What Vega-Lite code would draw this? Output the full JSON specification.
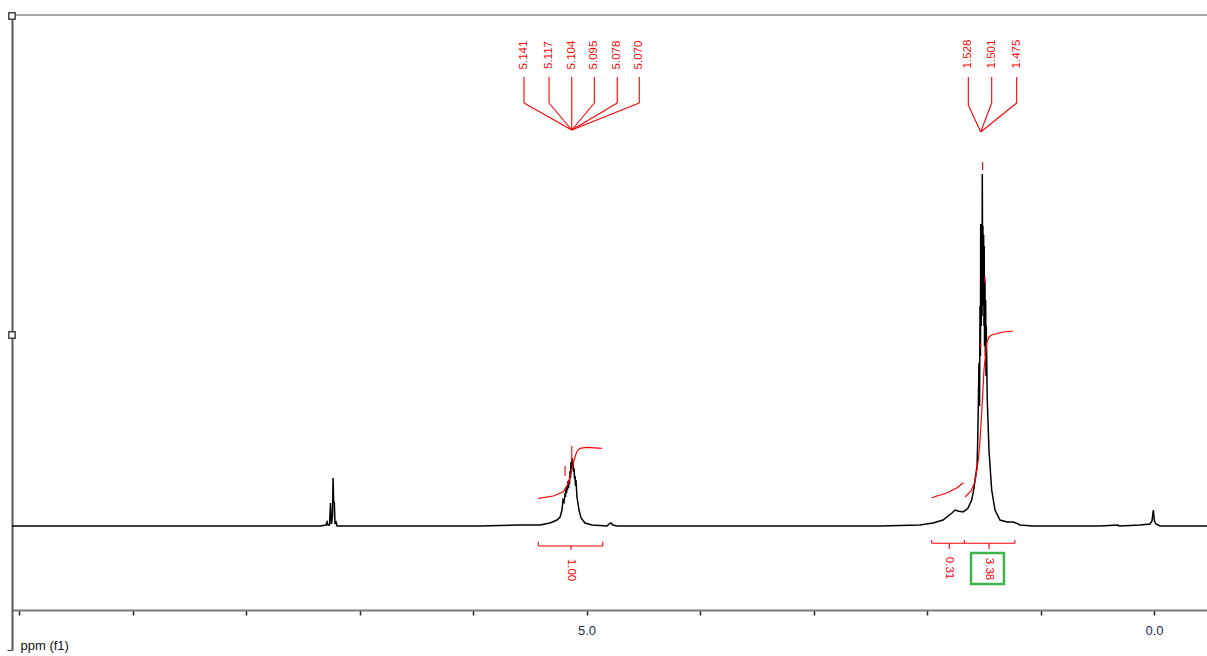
{
  "$schema": "https://vega.github.io/schema/vega-lite/v6.json",
  "width": 1195,
  "height": 635,
  "autosize": "none",
  "padding": {"left": 12, "top": 15, "right": 0, "bottom": 6},
  "background": "white",
  "config": {"view": {"stroke": null}, "font": "Liberation Sans"},
  "datasets": {
    "frame": [{"ppm": 10.062, "ppm2": -0.467, "val": 511}],
    "spectrum": [
      {"ppm": 10.062, "val": 0}, {"ppm": 9.5, "val": 0}, {"ppm": 9.0, "val": 0}, {"ppm": 8.5, "val": 0},
      {"ppm": 8.0, "val": 0}, {"ppm": 7.6, "val": 0}, {"ppm": 7.348, "val": 0}, {"ppm": 7.295, "val": 1},
      {"ppm": 7.286, "val": 4}, {"ppm": 7.278, "val": 1}, {"ppm": 7.264, "val": 1}, {"ppm": 7.256, "val": 23},
      {"ppm": 7.247, "val": 2}, {"ppm": 7.238, "val": 10}, {"ppm": 7.233, "val": 48}, {"ppm": 7.228, "val": 25},
      {"ppm": 7.222, "val": 23}, {"ppm": 7.216, "val": 3}, {"ppm": 7.207, "val": 4}, {"ppm": 7.198, "val": 0},
      {"ppm": 7.128, "val": 0}, {"ppm": 6.5, "val": 0}, {"ppm": 6.0, "val": 0}, {"ppm": 5.938, "val": 0},
      {"ppm": 5.586, "val": 1}, {"ppm": 5.41, "val": 1}, {"ppm": 5.322, "val": 3}, {"ppm": 5.26, "val": 6},
      {"ppm": 5.233, "val": 9}, {"ppm": 5.216, "val": 16}, {"ppm": 5.207, "val": 26}, {"ppm": 5.198, "val": 24},
      {"ppm": 5.189, "val": 33}, {"ppm": 5.185, "val": 29}, {"ppm": 5.181, "val": 38}, {"ppm": 5.176, "val": 33},
      {"ppm": 5.172, "val": 39}, {"ppm": 5.167, "val": 36}, {"ppm": 5.163, "val": 45}, {"ppm": 5.158, "val": 38},
      {"ppm": 5.154, "val": 46}, {"ppm": 5.15, "val": 42}, {"ppm": 5.145, "val": 55}, {"ppm": 5.141, "val": 48},
      {"ppm": 5.137, "val": 64}, {"ppm": 5.132, "val": 57}, {"ppm": 5.128, "val": 68}, {"ppm": 5.123, "val": 60},
      {"ppm": 5.119, "val": 63}, {"ppm": 5.114, "val": 54}, {"ppm": 5.11, "val": 58}, {"ppm": 5.105, "val": 47},
      {"ppm": 5.101, "val": 50}, {"ppm": 5.097, "val": 40}, {"ppm": 5.093, "val": 46}, {"ppm": 5.084, "val": 29},
      {"ppm": 5.066, "val": 16}, {"ppm": 5.048, "val": 8}, {"ppm": 5.013, "val": 3},
      {"ppm": 4.952, "val": 1}, {"ppm": 4.819, "val": 0}, {"ppm": 4.802, "val": 2}, {"ppm": 4.784, "val": 3},
      {"ppm": 4.767, "val": 1}, {"ppm": 4.731, "val": 0}, {"ppm": 4.0, "val": 0}, {"ppm": 3.5, "val": 0},
      {"ppm": 3.0, "val": 0}, {"ppm": 2.414, "val": 0}, {"ppm": 2.238, "val": 0.5}, {"ppm": 2.062, "val": 1},
      {"ppm": 1.947, "val": 3}, {"ppm": 1.859, "val": 6}, {"ppm": 1.78, "val": 13}, {"ppm": 1.753, "val": 16},
      {"ppm": 1.727, "val": 15}, {"ppm": 1.683, "val": 14}, {"ppm": 1.656, "val": 16}, {"ppm": 1.639, "val": 18},
      {"ppm": 1.606, "val": 26}, {"ppm": 1.586, "val": 38}, {"ppm": 1.577, "val": 46}, {"ppm": 1.559, "val": 60},
      {"ppm": 1.553, "val": 86}, {"ppm": 1.542, "val": 163}, {"ppm": 1.537, "val": 120}, {"ppm": 1.533, "val": 220},
      {"ppm": 1.529, "val": 170}, {"ppm": 1.527, "val": 302}, {"ppm": 1.522, "val": 200}, {"ppm": 1.519, "val": 250},
      {"ppm": 1.515, "val": 210}, {"ppm": 1.513, "val": 352}, {"ppm": 1.509, "val": 230}, {"ppm": 1.507, "val": 300},
      {"ppm": 1.504, "val": 220}, {"ppm": 1.501, "val": 291}, {"ppm": 1.498, "val": 200}, {"ppm": 1.496, "val": 280},
      {"ppm": 1.493, "val": 180}, {"ppm": 1.489, "val": 245}, {"ppm": 1.486, "val": 170}, {"ppm": 1.483, "val": 226},
      {"ppm": 1.48, "val": 150}, {"ppm": 1.478, "val": 200}, {"ppm": 1.469, "val": 126}, {"ppm": 1.454, "val": 76},
      {"ppm": 1.43, "val": 36}, {"ppm": 1.401, "val": 16},
      {"ppm": 1.357, "val": 6}, {"ppm": 1.295, "val": 4}, {"ppm": 1.242, "val": 4}, {"ppm": 1.216, "val": 3},
      {"ppm": 1.181, "val": 1}, {"ppm": 1.066, "val": 0}, {"ppm": 0.476, "val": 0}, {"ppm": 0.317, "val": 1},
      {"ppm": 0.308, "val": 0}, {"ppm": 0.211, "val": 0.5}, {"ppm": 0.123, "val": 1}, {"ppm": 0.035, "val": 2},
      {"ppm": 0.018, "val": 5}, {"ppm": 0.006, "val": 16}, {"ppm": -0.004, "val": 5}, {"ppm": -0.018, "val": 2},
      {"ppm": -0.053, "val": 0}, {"ppm": -0.467, "val": 0}
    ],
    "integrals": [
      {"seg": "A", "ppm": 5.425, "val": 27.7}, {"seg": "A", "ppm": 5.293, "val": 30}, {"seg": "A", "ppm": 5.204, "val": 34.3},
      {"seg": "A", "ppm": 5.16, "val": 43}, {"seg": "A", "ppm": 5.13, "val": 56}, {"seg": "A", "ppm": 5.11, "val": 66},
      {"seg": "A", "ppm": 5.086, "val": 74.3}, {"seg": "A", "ppm": 5.057, "val": 77.7}, {"seg": "A", "ppm": 4.998, "val": 78.7},
      {"seg": "A", "ppm": 4.866, "val": 77.7},
      {"seg": "B", "ppm": 1.959, "val": 28.3}, {"seg": "B", "ppm": 1.826, "val": 33}, {"seg": "B", "ppm": 1.738, "val": 38},
      {"seg": "B", "ppm": 1.68, "val": 43.3},
      {"seg": "C", "ppm": 1.665, "val": 29}, {"seg": "C", "ppm": 1.612, "val": 35}, {"seg": "C", "ppm": 1.577, "val": 44},
      {"seg": "C", "ppm": 1.548, "val": 66}, {"seg": "C", "ppm": 1.533, "val": 86}, {"seg": "C", "ppm": 1.518, "val": 113},
      {"seg": "C", "ppm": 1.498, "val": 156}, {"seg": "C", "ppm": 1.474, "val": 183}, {"seg": "C", "ppm": 1.454, "val": 189},
      {"seg": "C", "ppm": 1.43, "val": 191}, {"seg": "C", "ppm": 1.33, "val": 194}, {"seg": "C", "ppm": 1.242, "val": 195}
    ],
    "redSegments": [
      {"ppm": 5.551, "val": 449, "ppm2": 5.551, "val2": 423}, {"ppm": 5.551, "val": 423, "ppm2": 5.13, "val2": 396},
      {"ppm": 5.33, "val": 449, "ppm2": 5.33, "val2": 423}, {"ppm": 5.33, "val": 423, "ppm2": 5.13, "val2": 396},
      {"ppm": 5.13, "val": 449, "ppm2": 5.13, "val2": 396},
      {"ppm": 4.931, "val": 449, "ppm2": 4.931, "val2": 423}, {"ppm": 4.931, "val": 423, "ppm2": 5.13, "val2": 396},
      {"ppm": 4.729, "val": 449, "ppm2": 4.729, "val2": 423}, {"ppm": 4.729, "val": 423, "ppm2": 5.13, "val2": 396},
      {"ppm": 4.535, "val": 449, "ppm2": 4.535, "val2": 423}, {"ppm": 4.535, "val": 423, "ppm2": 5.13, "val2": 396},
      {"ppm": 1.636, "val": 449, "ppm2": 1.636, "val2": 421}, {"ppm": 1.636, "val": 421, "ppm2": 1.527, "val2": 394},
      {"ppm": 1.43, "val": 449, "ppm2": 1.43, "val2": 423}, {"ppm": 1.43, "val": 423, "ppm2": 1.527, "val2": 394},
      {"ppm": 1.21, "val": 449, "ppm2": 1.21, "val2": 423}, {"ppm": 1.21, "val": 423, "ppm2": 1.527, "val2": 394},
      {"ppm": 1.51, "val": 356, "ppm2": 1.51, "val2": 364},
      {"ppm": 1.489, "val": 243, "ppm2": 1.489, "val2": 249},
      {"ppm": 1.527, "val": 178, "ppm2": 1.527, "val2": 183},
      {"ppm": 5.13, "val": 64, "ppm2": 5.13, "val2": 80},
      {"ppm": 5.189, "val": 50, "ppm2": 5.189, "val2": 60},
      {"ppm": 5.425, "val": -20, "ppm2": 4.857, "val2": -20},
      {"ppm": 5.425, "val": -20, "ppm2": 5.425, "val2": -15.7},
      {"ppm": 4.857, "val": -20, "ppm2": 4.857, "val2": -15.7},
      {"ppm": 5.137, "val": -20, "ppm2": 5.137, "val2": -24},
      {"ppm": 1.959, "val": -17.3, "ppm2": 1.225, "val2": -17.3},
      {"ppm": 1.959, "val": -17.3, "ppm2": 1.959, "val2": -14},
      {"ppm": 1.671, "val": -17.3, "ppm2": 1.671, "val2": -14},
      {"ppm": 1.225, "val": -17.3, "ppm2": 1.225, "val2": -14},
      {"ppm": 1.804, "val": -17.3, "ppm2": 1.804, "val2": -23},
      {"ppm": 1.454, "val": -17.3, "ppm2": 1.454, "val2": -23}
    ],
    "peakLabels": [
      {"ppm": 5.551, "val": 471, "label": "5.141"}, {"ppm": 5.33, "val": 471, "label": "5.117"},
      {"ppm": 5.13, "val": 471, "label": "5.104"}, {"ppm": 4.931, "val": 471, "label": "5.095"},
      {"ppm": 4.729, "val": 471, "label": "5.078"}, {"ppm": 4.535, "val": 471, "label": "5.070"},
      {"ppm": 1.636, "val": 472, "label": "1.528"}, {"ppm": 1.43, "val": 472, "label": "1.501"},
      {"ppm": 1.21, "val": 472, "label": "1.475"}
    ],
    "integralLabels": [
      {"ppm": 5.137, "val": -44, "label": "1.00"},
      {"ppm": 1.804, "val": -42, "label": "0.31"},
      {"ppm": 1.454, "val": -43, "label": "3.38"}
    ],
    "box": [{"ppm": 1.612, "ppm2": 1.322, "val": -27, "val2": -58}],
    "handles": [{"ppm": 10.062, "val": 510}, {"ppm": 10.062, "val": 191}]
  },
  "encoding": {
    "x": {
      "field": "ppm",
      "type": "quantitative",
      "scale": {"domain": [-0.467, 10.062], "reverse": true, "nice": false, "zero": false},
      "axis": {
        "title": "ppm (f1)",
        "offset": -40,
        "values": [0, 1, 2, 3, 4, 5, 6, 7, 8, 9, 10],
        "labelExpr": "(datum.value === 0 || datum.value === 5) ? format(datum.value, '.1f') : ''",
        "tickSize": 5,
        "tickColor": "#222222",
        "tickWidth": 1.5,
        "domainColor": "#7a7a7a",
        "domainWidth": 2,
        "grid": false,
        "labelFont": "Liberation Sans",
        "labelFontSize": 13,
        "labelColor": "#1d2a4d",
        "labelPadding": 9,
        "labelFlush": false,
        "labelOverlap": false,
        "titleFont": "Liberation Sans",
        "titleFontSize": 13,
        "titleFontWeight": "normal",
        "titleColor": "#111111",
        "titleAnchor": "start",
        "titleAlign": "left",
        "titleBaseline": "middle",
        "titleX": 8,
        "titleY": 35
      }
    },
    "y": {
      "field": "val",
      "type": "quantitative",
      "scale": {"domain": [-124, 511], "nice": false, "zero": false},
      "axis": {
        "title": null,
        "domain": true,
        "domainColor": "#5a5a5a",
        "domainWidth": 2,
        "values": [-124],
        "ticks": true,
        "tickSize": 5,
        "tickColor": "#333333",
        "labels": false,
        "grid": false
      }
    }
  },
  "layer": [
    {
      "data": {"name": "frame"},
      "mark": {"type": "rule", "color": "#a8a8a8", "strokeWidth": 2},
      "encoding": {"x2": {"field": "ppm2"}}
    },
    {
      "data": {"name": "spectrum"},
      "mark": {"type": "line", "color": "#000000", "strokeWidth": 1.5, "interpolate": "linear"}
    },
    {
      "data": {"name": "integrals"},
      "mark": {"type": "line", "color": "#ff0000", "strokeWidth": 1.2},
      "encoding": {"detail": {"field": "seg"}}
    },
    {
      "data": {"name": "redSegments"},
      "mark": {"type": "rule", "color": "#ff0000", "strokeWidth": 1.1},
      "encoding": {"x2": {"field": "ppm2"}, "y2": {"field": "val2"}}
    },
    {
      "data": {"name": "peakLabels"},
      "mark": {"type": "text", "color": "#ff0000", "angle": 270, "align": "center", "baseline": "middle", "font": "Liberation Sans", "fontSize": 11.5},
      "encoding": {"text": {"field": "label"}}
    },
    {
      "data": {"name": "integralLabels"},
      "mark": {"type": "text", "color": "#ff0000", "angle": 90, "align": "center", "baseline": "middle", "font": "Liberation Sans", "fontSize": 11.5},
      "encoding": {"text": {"field": "label"}}
    },
    {
      "data": {"name": "box"},
      "mark": {"type": "rect", "fill": null, "fillOpacity": 0, "stroke": "#3cb44b", "strokeWidth": 2.5},
      "encoding": {"x2": {"field": "ppm2"}, "y2": {"field": "val2"}}
    },
    {
      "data": {"name": "handles"},
      "mark": {"type": "point", "shape": "square", "filled": true, "fill": "white", "stroke": "#444444", "strokeWidth": 1.5, "size": 40, "opacity": 1}
    }
  ]
}
